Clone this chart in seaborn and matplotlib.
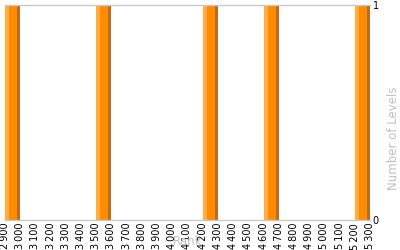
import matplotlib
matplotlib.use("Agg")
import matplotlib.pyplot as plt
import seaborn as sns
import numpy as np

# Data
bin_starts = [2900, 3500, 4200, 4600, 5200]
level_counts = [1, 1, 1, 1, 1]
bin_width = 100
x_ticks = list(range(2900, 5301, 100))
tick_labels = [f"{t // 1000}\u2009{t % 1000:03d}" for t in x_ticks]
y_ticks = [0, 1]

sns.set_theme(style="white")
plt.rcParams['font.family'] = ['DejaVu Sans']

fig = plt.figure(figsize=(4, 2.5), dpi=100)
ax = fig.add_axes([5 / 400, 1 - 220 / 250, 365 / 400, 215 / 250])

# main bars via seaborn histogram (weights = counts)
sns.histplot(x=bin_starts, weights=level_counts, binwidth=bin_width,
             binrange=(2900, 5300), color="#FF8C00", alpha=1,
             edgecolor="none", linewidth=0, ax=ax)
# shading strips (light left, dark right)
left_w = bin_width * 0.27
right_w = bin_width * 0.20
ax.bar(bin_starts, level_counts, width=left_w, align="edge",
       color="#FFAD4A", linewidth=0)
ax.bar([b + bin_width - right_w for b in bin_starts], level_counts,
       width=right_w, align="edge", color="#C86A0A", linewidth=0)

ax.set_xlim(2900, 5300)
ax.set_ylim(0, 1)
ax.set_xticks(x_ticks)
ax.set_xticklabels(tick_labels, rotation=90, fontsize=7, color="black")
ax.yaxis.tick_right()
ax.set_yticks(y_ticks)
ax.set_yticklabels([str(v) for v in y_ticks], fontsize=7, color="black")
ax.tick_params(axis="both", length=0, pad=2)

for side in ["left", "right"]:
    ax.spines[side].set_visible(False)
for side in ["top", "bottom"]:
    ax.spines[side].set_color("#C8C8C8")
    ax.spines[side].set_linewidth(1)

ax.set_xlabel("Rank", fontsize=8.5, color="#C0C0C0")
ax.xaxis.set_label_coords(0.5, -0.07)
ax.xaxis.label.set_va("top")
ax.set_ylabel("Number of Levels", fontsize=8.5, color="#C0C0C0", rotation=90)
ax.yaxis.set_label_position("right")
ax.yaxis.set_label_coords(1.065, 0.38)
ax.yaxis.label.set_va("center")
ax.grid(False)

fig.savefig("out.png", dpi=100)
